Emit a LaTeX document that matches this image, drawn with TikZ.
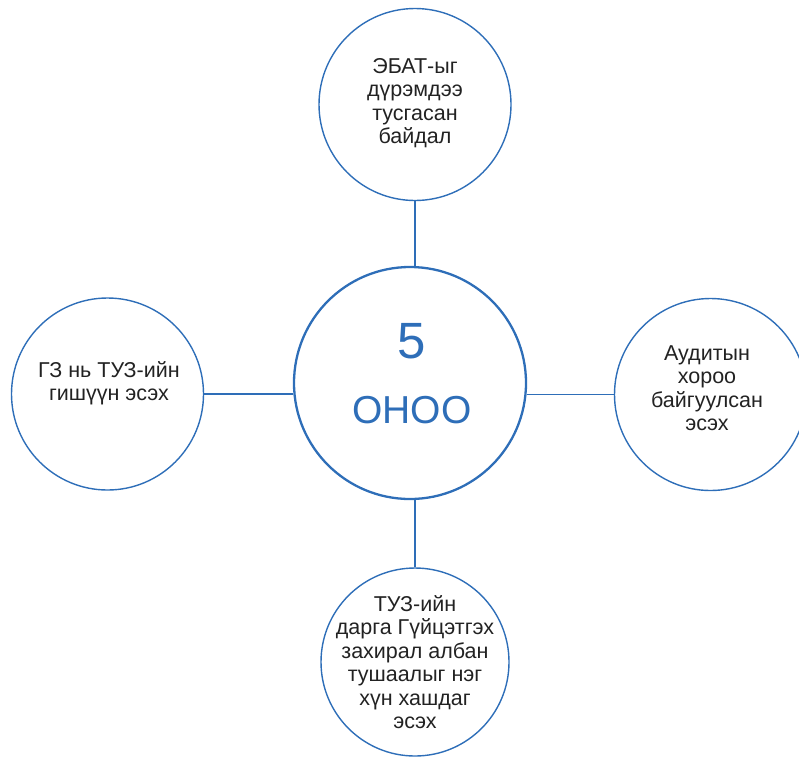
\documentclass[tikz,border=0pt]{standalone}
\usepackage{fontspec}
\setmainfont{Liberation Sans}
\definecolor{ringblue}{RGB}{46,110,184}
\definecolor{txtgray}{RGB}{34,34,34}
\begin{document}
\begin{tikzpicture}
		[x=1pt,y=-1pt,
		bubble/.style={circle,draw=ringblue,line width=1.4pt,minimum size=#1,inner sep=0pt},
		bubble/.default=192pt,
		crit/.style={text=txtgray,align=center,inner sep=0pt,font=\fontsize{21.5}{23.5}\selectfont},
		link/.style={draw=ringblue,line width=1.3pt}]
		
		\useasboundingbox (0,0) rectangle (799,758);
		
		\node[bubble=232pt,line width=2.3pt] (mid) at (410,383){};
		\node[bubble] (top) at (415,104.5){};
		\node[bubble] (left) at (107.5,394){};
		\node[bubble] (right) at (710.5,394.5){};
		\node[bubble=188pt] (bottom) at (415,662){};
		
		\node[anchor=base,text=ringblue,font=\fontsize{51}{51}\selectfont] (score) at (412,358){5};
		\node[anchor=base,text=ringblue,font=\fontsize{39}{39}\selectfont] (unit) at (412,423){ОНОО};
		
		\node[crit] (toptext) at (415,103){ЭБАТ-ыг\\дүрэмдээ\\тусгасан\\байдал};
		\node[crit] (lefttext) at (109,383){ГЗ нь ТУЗ-ийн\\гишүүн эсэх};
		\node[crit] (righttext) at (707,388){Аудитын\\хороо\\байгуулсан\\эсэх};
		\node[crit] (bottomtext) at (415,662){ТУЗ-ийн\\дарга Гүйцэтгэх\\захирал албан\\тушаалыг нэг\\хүн хашдаг\\эсэх};
		
		\draw[link] (top.south) -- (top.south |- mid.north);
		\draw[link] (bottom.north) -- (bottom.north |- mid.south);
		\draw[link] (left.east) -- (left.east -| mid.west);
		\draw[link] (right.west) -- (right.west -| mid.east);
	
	\end{tikzpicture}
\end{document}
